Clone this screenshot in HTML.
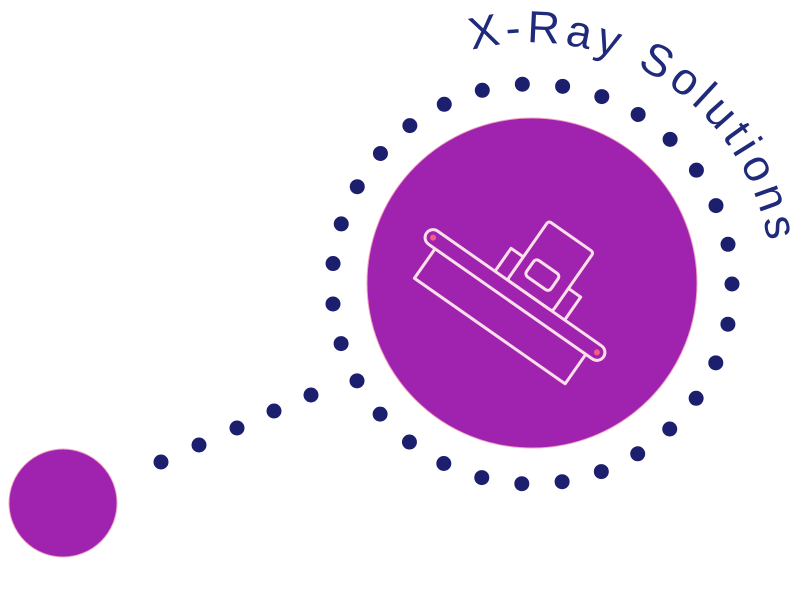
<!DOCTYPE html>
<html><head><style>
html,body{margin:0;padding:0;background:#fff;}
svg{display:block;}
</style></head><body>
<svg width="800" height="600" viewBox="0 0 800 600" xmlns="http://www.w3.org/2000/svg">
<defs>
<path id="tp" d="M 472 50 A 240 240 0 0 1 771 270" fill="none"/>
</defs>
<circle cx="532" cy="284" r="200" fill="none" stroke="#1c1f6e" stroke-width="15" stroke-linecap="round" stroke-dasharray="0 40.537"/>
<g fill="#1c1f6e">
<circle cx="161" cy="462" r="7.5"/>
<circle cx="199" cy="445" r="7.5"/>
<circle cx="237" cy="428" r="7.5"/>
<circle cx="274" cy="411" r="7.5"/>
<circle cx="311" cy="395" r="7.5"/>
</g>
<circle cx="532" cy="283" r="165" fill="#a023b0" stroke="#f4a3c0" stroke-width="1"/>
<circle cx="63" cy="503" r="54" fill="#a023b0" stroke="#f4a3c0" stroke-width="1"/>
<g transform="translate(515,295) rotate(35)" fill="none" stroke="#ffe0e8" stroke-width="3" stroke-linejoin="round">
<rect x="-108" y="-8" width="216" height="16" rx="8"/>
<circle cx="-100" cy="0" r="3" fill="#f06080" stroke="none"/>
<circle cx="100" cy="0" r="3" fill="#f06080" stroke="none"/>
<path d="M -92 8 L -92 44 L 92 44 L 92 8"/>
<path d="M -30 -8 L -30 -36 L -15 -36 M 40 -36 L 55 -36 L 55 -8"/>
<rect x="-15" y="-80" width="55" height="72" rx="3"/>
<rect x="-4" y="-42" width="30" height="20" rx="4"/>
</g>
<text font-family="Liberation Sans, sans-serif" font-size="45" fill="#1f2a7a"><textPath href="#tp" textLength="395">X-Ray Solutions</textPath></text>
</svg>
</body></html>
